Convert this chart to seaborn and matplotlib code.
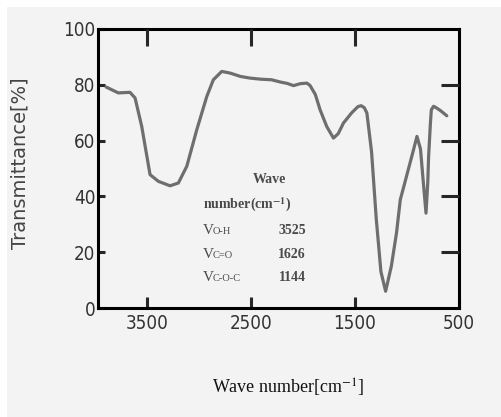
import numpy as np
import pandas as pd
import matplotlib
matplotlib.use("Agg")
import matplotlib.pyplot as plt
from matplotlib.patches import Rectangle
import seaborn as sns

# IR spectrum
wavenumber = [3890, 3773, 3661, 3612, 3548, 3468, 3388, 3276, 3196, 3115,
              3019, 2923, 2860, 2779, 2699, 2600, 2507, 2400, 2300, 2218,
              2150, 2090, 2026, 1960, 1930, 1880, 1834, 1770, 1706, 1660,
              1610, 1530, 1470, 1440, 1410, 1385, 1340, 1295, 1250, 1205,
              1150, 1100, 1064, 1000, 937, 904, 870, 845, 817, 800,
              792, 775, 766, 745, 728, 680, 617]
transmittance = [79.2, 77.1, 77.3, 75.3, 65.1, 47.8, 45.4, 43.8, 44.8, 50.8,
                 63.9, 75.8, 81.8, 84.8, 84.2, 83.0, 82.4, 82.0, 81.8, 81.0,
                 80.5, 79.7, 80.4, 80.6, 79.7, 76.5, 71.0, 65.0, 60.9, 62.5,
                 66.3, 70.0, 72.2, 72.5, 71.8, 69.9, 56.0, 32.0, 13.0, 6.0,
                 15.0, 27.0, 38.8, 47.8, 56.7, 61.5, 57.0, 46.0, 34.0, 45.0,
                 54.3, 66.0, 71.0, 72.3, 72.0, 70.8, 68.9]

x_ticks = [3500, 2500, 1500, 500]
y_ticks = [0, 20, 40, 60, 80, 100]

# peak table shown inside the plot
bond_labels = ["O-H", "C=O", "C-O-C"]
bond_values = [3525, 1626, 1144]

df = pd.DataFrame({"wn": wavenumber, "T": transmittance})

sns.set_theme(style="ticks")
plt.rcParams["font.family"] = ["DejaVu Sans"]
plt.rcParams["mathtext.fontset"] = "stix"

bg = "#f3f3f3"
fig = plt.figure(figsize=(5.02, 4.17), dpi=100, facecolor="white")
fig.patches.append(Rectangle((7 / 502, 0), 1, 410 / 417, transform=fig.transFigure,
                             facecolor=bg, edgecolor="none", zorder=-10))
ax = fig.add_axes([98 / 502, 109 / 417, 361 / 502, 279 / 417])
ax.set_facecolor(bg)

sns.lineplot(data=df, x="wn", y="T", ax=ax, color="#6e6e6e", linewidth=2.3,
             sort=False, estimator=None)

ax.set_xlim(3968, 500)
ax.set_ylim(0, 100)
ax.set_xticks(x_ticks)
ax.set_yticks(y_ticks)
tick_font = dict(fontsize=13.5, color="#333", family=["DejaVu Sans"],
                 fontstretch="condensed")
ax.set_xticklabels([str(v) for v in x_ticks], **tick_font)
ax.set_yticklabels([str(v) for v in y_ticks], **tick_font)

for s in ax.spines.values():
    s.set_visible(True)
    s.set_linewidth(2.2)
    s.set_color("black")

ax.tick_params(axis="x", direction="in", length=8, width=2.2, pad=4)
ax.tick_params(axis="y", direction="in", length=5, width=2.2, pad=2)

# long inward ticks on top and right
top = ax.twiny()
top.set_xlim(ax.get_xlim())
top.set_xticks(x_ticks[:3])
top.tick_params(axis="x", direction="in", length=12, width=2.2, labeltop=False)
right = ax.twinx()
right.set_ylim(ax.get_ylim())
right.set_yticks(y_ticks[1:5])
right.tick_params(axis="y", direction="in", length=13, width=2.2, labelright=False)
for a in (top, right):
    for s in a.spines.values():
        s.set_visible(False)

ax.set_xlabel("")
ax.set_ylabel("")
fig.text(20 / 502, 1 - 163 / 417, "Transmittance[%]", rotation=90, ha="center",
         va="center", fontsize=14, color="#444", family=["DejaVu Sans"])
fig.text(288 / 502, 1 - 388 / 417, "Wave number[cm$^{-1}$]", ha="center", va="center",
         fontsize=13, color="#111", family=["Liberation Serif"])

txt = dict(family=["Liberation Serif"], color="#4a4a4a", fontweight="bold")
ax.text(0.474, 0.459, "Wave", transform=ax.transAxes, ha="center", va="center",
        fontsize=10, **txt)
ax.text(0.291, 0.369, "number(cm$^{\\mathbf{-1}}$)", transform=ax.transAxes,
        ha="left", va="center", fontsize=10, **txt)
rows_y = [0.265, 0.180, 0.095]
for lab, val, yy in zip(bond_labels, bond_values, rows_y):
    ax.text(0.291, yy, "V", transform=ax.transAxes, ha="left", va="baseline",
            fontsize=11, family=["Liberation Serif"], color="#4a4a4a")
    ax.text(0.318, yy, lab, transform=ax.transAxes, ha="left", va="baseline",
            fontsize=7.5, family=["Liberation Serif"], color="#4a4a4a")
    ax.text(0.576, yy, str(val), transform=ax.transAxes, ha="right", va="baseline",
            fontsize=10, **txt)

fig.savefig("out.png", dpi=100, facecolor=fig.get_facecolor())
